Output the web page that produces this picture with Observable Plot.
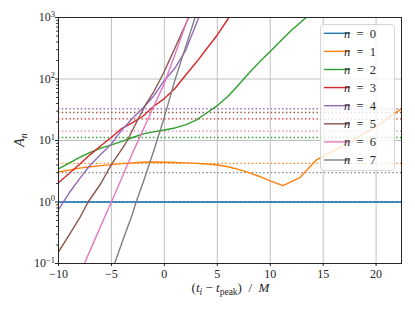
<!DOCTYPE html>
<html><head><meta charset="utf-8">
<script src="https://cdn.jsdelivr.net/npm/d3@7"></script>
<script src="https://cdn.jsdelivr.net/npm/@observablehq/plot@0.6"></script>
<style>body{margin:0;background:#fff} svg{display:block} svg, svg text{font-family:"Liberation Serif","DejaVu Serif",serif !important}</style>
</head><body><div id="chart"></div>
<script>
// ---- data ----
const legendLabels = ["n = 0","n = 1","n = 2","n = 3","n = 4","n = 5","n = 6","n = 7"];
const colors = ["#1f77b4","#ff7f0e","#2ca02c","#d62728","#9467bd","#8c564b","#e377c2","#7f7f7f"];
// dotted reference levels, one per n
const levels = [1.0, 4.25, 11.2, 22.5, 32.8, 28.6, 14.2, 3.0];
const xTicks = [-10,-5,0,5,10,15,20];
const yTicks = [0.1,1,10,100,1000];

const n0 = [[-10,1],[22.4,1]];
const n1 = [[-10,3.08],[-9,3.3],[-8,3.55],[-7,3.75],[-6,3.9],[-5,4.05],[-4,4.2],[-3,4.3],[-2,4.42],[-1,4.47],[0,4.42],[1,4.38],[2,4.33],[3,4.25],[4,4.15],[5,4.0],[6,3.75],[7,3.4],[8,3.0],[9,2.6],[10,2.2],[11.2,1.84],[12.8,2.5],[14.4,4.9],[16,6.8],[18,10.5],[20,17],[22.4,33]];
const n2 = [[-10,3.45],[-9,4.3],[-8,5.3],[-7,6.4],[-6,7.5],[-5,8.5],[-4,9.7],[-3,11.2],[-2,12.8],[-1,13.8],[0,14.8],[1,16],[2,18],[3,21.5],[4,28],[5,37],[6,52],[7,80],[8,125],[9,190],[10,280],[11,420],[12,620],[13.4,1000]];
const n3 = [[-10,2.05],[-9,2.9],[-8,4.1],[-7,5.9],[-6,8.2],[-5,11.3],[-4,15.8],[-3,19.5],[-2,25],[-1,36],[0,48],[1,70],[2,115],[3,185],[4,310],[5,520],[6.1,1000]];
const n4 = [[-10,0.75],[-9,1.4],[-8,2.4],[-7,4.0],[-6,6.0],[-5,8.8],[-4,15],[-3,23],[-2,34],[-1,53],[0,95],[1,150],[2,290],[3,780],[3.25,1000]];
const n5 = [[-10,0.155],[-9,0.29],[-8,0.55],[-7.2,1.0],[-6,2.0],[-5,4.1],[-4,7.3],[-3.5,10],[-2.5,22],[-1.7,40],[-1,62],[-0.1,123],[1,320],[2.3,1000]];
const n6 = [[-7.55,0.1],[-7,0.165],[-6,0.41],[-5,1.0],[-4,2.5],[-3,6.3],[-2,15],[-1,36],[0,85],[1,250],[2.26,1000]];
const n7 = [[-4.7,0.1],[-4,0.22],[-3,0.65],[-2.67,1.0],[-2,2.1],[-1,6.8],[0,24],[1,96],[2,330],[2.9,1000]];
const curves = [n0,n1,n2,n3,n4,n5,n6,n7];

// ---- derived tables ----
const rows = curves.flatMap((c,i)=>c.map(([x,y])=>({n:i,x,y,c:colors[i]})));
const levelRows = levels.map((v,i)=>({v,c:colors[i]}));
const yMinor = [0.1,1,10,100].flatMap(b=>[2,3,4,5,6,7,8,9].map(m=>+(b*m).toPrecision(3)));

const W=415,H=311,mL=58,mR=14,mT=17,mB=48;
const font = "Liberation Serif, DejaVu Serif, serif";
const ink = "#262626";

const chart = Plot.plot({
  width: W, height: H, marginLeft: mL, marginRight: mR, marginTop: mT, marginBottom: mB,
  style: {fontFamily: font, fontSize: "12px", background: "#fff", color: ink, overflow: "visible"},
  x: {domain: [-10, 22.4]},
  y: {type: "log", domain: [0.1, 1000]},
  color: {type: "identity"},
  marks: [
    Plot.gridX(xTicks, {stroke: "#b0b0b0", strokeOpacity: 1, strokeWidth: 0.8}),
    Plot.gridY(yTicks, {stroke: "#b0b0b0", strokeOpacity: 1, strokeWidth: 0.8}),
    Plot.ruleY(levelRows, {y: "v", stroke: "c", strokeWidth: 1.4, strokeDasharray: "1.4,2.4"}),
    Plot.line(rows, {x: "x", y: "y", z: "n", stroke: "c", strokeWidth: 1.4, clip: true}),
    Plot.axisX(xTicks, {tickSize: 3, tickPadding: 3, label: null, fontSize: 12}),
    Plot.axisY(yMinor, {tickSize: 1.8, tickFormat: () => "", label: null}),
    Plot.axisY(yTicks, {tickSize: 3, tickPadding: 0.5, label: null, fontSize: 12,
      tickFormat: d => "e" + Math.round(Math.log10(d))}),
    Plot.frame({stroke: ink, strokeWidth: 1})
  ]
});
document.getElementById("chart").append(chart);

const svg = d3.select(chart);
// superscript exponents on the log axis labels
svg.selectAll('g[aria-label="y-axis tick label"] text').each(function(){
  const t = this.textContent;
  if (!t.startsWith("e")) return;
  const k = t.slice(1).replace("-", "\u2212");
  const s = d3.select(this); s.text("");
  s.append("tspan").text("10");
  s.append("tspan").attr("dy", "-0.55em").attr("font-size", "8.5px").text(k);
});

// x axis label
const xl = svg.append("text").attr("x", mL + (W-mL-mR)/2 + 1).attr("y", 292)
  .attr("text-anchor", "middle").attr("font-size", 13).attr("font-family", font)
  .attr("fill", ink).style("white-space", "pre");
xl.append("tspan").text("(");
xl.append("tspan").attr("font-style", "italic").text("t");
xl.append("tspan").attr("font-size", "9.5px").attr("font-style", "italic").attr("dy", 2.5).text("i");
xl.append("tspan").attr("dy", -2.5).text(" \u2212 ");
xl.append("tspan").attr("font-style", "italic").text("t");
xl.append("tspan").attr("font-size", "9.5px").attr("dy", 2.5).text("peak");
xl.append("tspan").attr("dy", -2.5).text(")  /  ");
xl.append("tspan").attr("font-style", "italic").text("M");

// y axis label
const yl = svg.append("text").attr("transform", `translate(24,${mT + (H-mT-mB)/2}) rotate(-90)`)
  .attr("text-anchor", "middle").attr("font-size", 14).attr("font-family", font).attr("fill", ink);
yl.append("tspan").attr("font-style", "italic").text("A");
yl.append("tspan").attr("font-style", "italic").attr("font-size", "10px").attr("dy", 2.5).text("n");

// legend
const lg = svg.append("g");
lg.append("rect").attr("x", 320.5).attr("y", 24.5).attr("width", 74).attr("height", 146).attr("rx", 3)
  .attr("fill", "#fff").attr("fill-opacity", 0.8).attr("stroke", "#cccccc").attr("stroke-width", 0.8);
legendLabels.forEach((lab, i) => {
  const yy = 33.3 + i * 18.1;
  lg.append("line").attr("x1", 324).attr("x2", 350).attr("y1", yy).attr("y2", yy)
    .attr("stroke", colors[i]).attr("stroke-width", 1.4);
  const [a, b] = lab.split(" = ");
  const t = lg.append("text").attr("x", 360).attr("y", yy + 4.2).attr("font-size", 12.5)
    .attr("font-family", font).attr("fill", ink).style("white-space", "pre");
  t.append("tspan").attr("font-style", "italic").text(a);
  t.append("tspan").text("\u2002=\u2002" + b);
});
</script>
</body></html>
